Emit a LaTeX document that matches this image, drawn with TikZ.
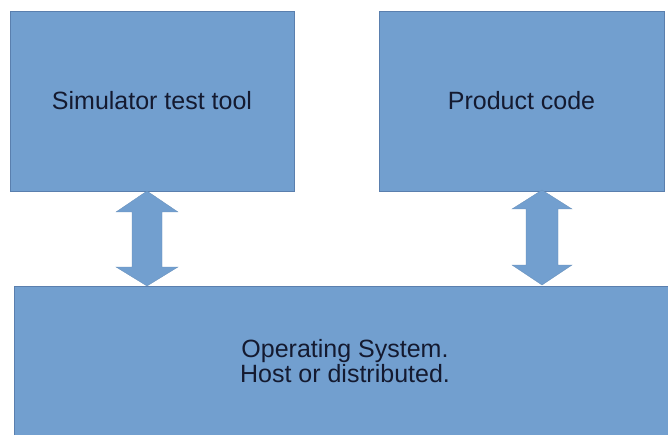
\documentclass[tikz,border=0pt]{standalone}
\usepackage{fontspec}
\setmainfont{Liberation Sans}
\definecolor{boxfill}{HTML}{729FCF}
\definecolor{boxline}{HTML}{5A7FAE}
\definecolor{txt}{HTML}{141A30}
\begin{document}
\begin{tikzpicture}[x=1pt,y=-1pt,
  block/.style={draw=boxline,fill=boxfill,line width=0.8pt,text=txt,
    font=\fontsize{25}{24.5}\selectfont,align=center,inner sep=0pt,
    minimum width=#1},
  block/.default=284pt,
  dblarrow/.style={fill=boxfill,draw=boxfill!90!black,line width=0.3pt}]
\useasboundingbox (0,0) rectangle (668,435);
\begin{scope}
\clip (0,0) rectangle (668,435);
\node[block=284pt,minimum height=180pt] (sim) at (152,101) {Simulator test tool};
\node[block=285pt,minimum height=180pt] (prod) at (521.5,101) {Product code};
\node[block=658pt,minimum height=154pt,anchor=north west] (os) at (14,286) {};
\node[text=txt,font=\fontsize{25}{24.5}\selectfont,align=center,inner sep=0pt] (ostext) at (345,361) {Operating System.\\ Host or distributed.};
\end{scope}
% double arrows
\draw[dblarrow] (147,191) -- (178,212) -- (162,212) -- (162,267) -- (178,267) -- (147,286)
  -- (116,267) -- (132,267) -- (132,212) -- (116,212) -- cycle;
\draw[dblarrow] (542,190) -- (572,209) -- (558,209) -- (558,265) -- (572,265) -- (542,285)
  -- (512,265) -- (526,265) -- (526,209) -- (512,209) -- cycle;
\end{tikzpicture}
\end{document}
